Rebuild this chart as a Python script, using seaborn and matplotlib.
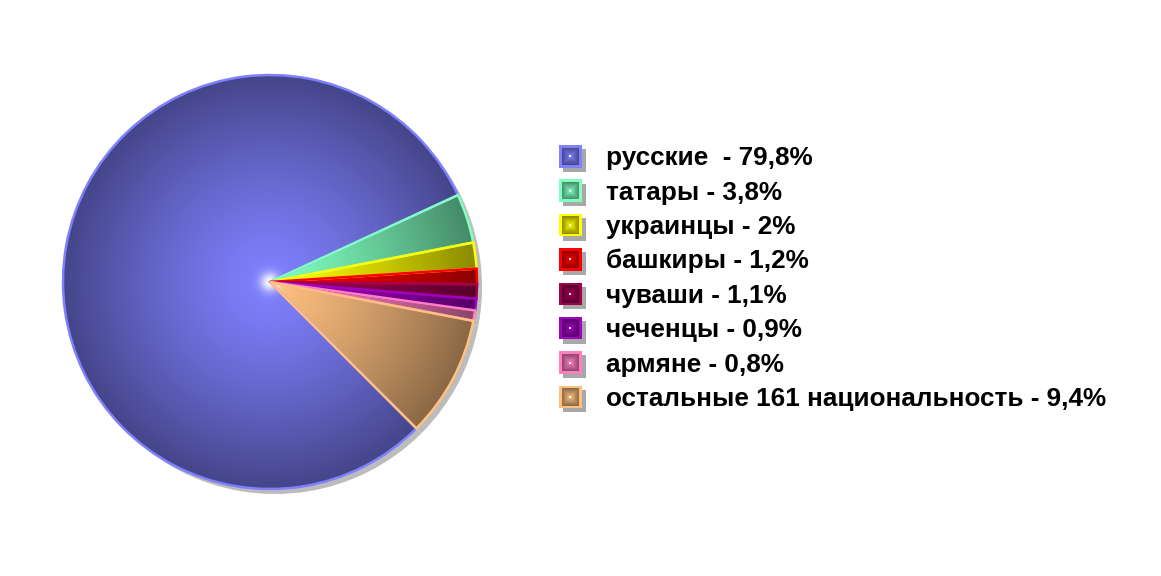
import numpy as np
import matplotlib
matplotlib.use('Agg')
import matplotlib.pyplot as plt
import seaborn as sns
from matplotlib.patches import Rectangle, Wedge
from matplotlib.legend_handler import HandlerBase
import matplotlib.transforms as mtransforms

# Data: population share by nationality (%)
nationalities = ['русские', 'татары', 'украинцы', 'башкиры', 'чуваши',
                 'чеченцы', 'армяне', 'остальные 161 национальность']
shares = [79.8, 3.8, 2.0, 1.2, 1.1, 0.9, 0.8, 9.4]
legend_labels = ['русские  - 79,8%', 'татары - 3,8%', 'украинцы - 2%',
                 'башкиры - 1,2%', 'чуваши - 1,1%', 'чеченцы - 0,9%',
                 'армяне - 0,8%', 'остальные 161 национальность - 9,4%']
slice_colors = ['#8080ff', '#80ffc0', '#ffff00', '#ff0000', '#a00050',
                '#a000c0', '#ff80c0', '#ffc080']

sns.set_theme(style='white')
plt.rcParams['font.family'] = ['Liberation Sans', 'DejaVu Sans']
plt.rcParams['text.color'] = 'black'
palette = sns.color_palette(slice_colors)

fig = plt.figure(figsize=(11.61, 5.76), dpi=100)
W, H = 1161, 576
cx, cy, half = 270, 282, 210
ax = fig.add_axes([(cx - half) / W, (H - cy - half) / H, 2 * half / W, 2 * half / H])

# drop shadow
shadow_off = mtransforms.ScaledTranslation(5 / 100, -5 / 100, fig.dpi_scale_trans)
sw, _ = ax.pie(shares, startangle=-45, counterclock=False,
               colors=['#bcbcbc'] * len(shares), wedgeprops=dict(linewidth=0))
for w in sw:
    w.set_transform(w.get_transform() + shadow_off)
    w.set_zorder(0)

wedges, _ = ax.pie(shares, startangle=-45, counterclock=False, colors=palette,
                   wedgeprops=dict(linewidth=1.8))

lim = half / 207
ax.set_xlim(-lim, lim)
ax.set_ylim(-lim, lim)
ax.set_aspect('equal')
ax.axis('off')

# radial shading inside every slice
n = 500
xx, yy = np.meshgrid(np.linspace(-1, 1, n), np.linspace(1, -1, n))
r = np.sqrt(xx ** 2 + yy ** 2)
shade = np.clip(1 - 0.46 * r ** 1.3, 0, 1)
glow = np.exp(-(r / 0.045) ** 2)
for w, col in zip(wedges, palette):
    rgb = np.array(col)[None, None, :] * shade[..., None]
    rgb = rgb * (1 - glow[..., None]) + glow[..., None]
    img = np.dstack([rgb, np.ones_like(r)])
    im = ax.imshow(img, extent=(-1, 1, -1, 1), zorder=1, interpolation='bilinear')
    im.set_clip_path(w)
    w.set_facecolor('none')
    w.set_edgecolor(col)
    w.set_zorder(3)


class ShadedSquare(HandlerBase):
    def create_artists(self, legend, orig_handle, xdescent, ydescent,
                       width, height, fontsize, trans):
        base = np.array(orig_handle.get_edgecolor()[:3])
        s = min(width, height)
        x0 = -xdescent + (width - s) / 2
        y0 = -ydescent + (height - s) / 2
        arts = [Rectangle((x0 + 3, y0 - 3), s, s, facecolor='#a8a8a8',
                          edgecolor='none', transform=trans)]
        arts.append(Rectangle((x0, y0), s, s, facecolor=base,
                              edgecolor='none', transform=trans))
        steps = 14
        for k in range(steps):
            f = k / steps
            inset = 1.8 + f * (s / 2 - 1.8)
            c = base * (0.55 + 0.45 * f)
            arts.append(Rectangle((x0 + inset, y0 + inset), s - 2 * inset,
                                  s - 2 * inset, facecolor=c, edgecolor='none',
                                  transform=trans))
        d = 1.4
        arts.append(Rectangle((x0 + s / 2 - d / 2, y0 + s / 2 - d / 2), d, d,
                              facecolor='white', edgecolor='none', transform=trans))
        return arts


fig.legend(wedges, legend_labels, handler_map={Wedge: ShadedSquare()},
           loc='center left', bbox_to_anchor=(558 / W, 1 - 278 / H),
           bbox_transform=fig.transFigure, frameon=False,
           prop=dict(size=18.8, weight='bold'), borderpad=0, borderaxespad=0,
           handlelength=0.95, handleheight=0.95, handletextpad=0.88,
           labelspacing=0.35)

fig.savefig('out.png', dpi=100, facecolor='white')
